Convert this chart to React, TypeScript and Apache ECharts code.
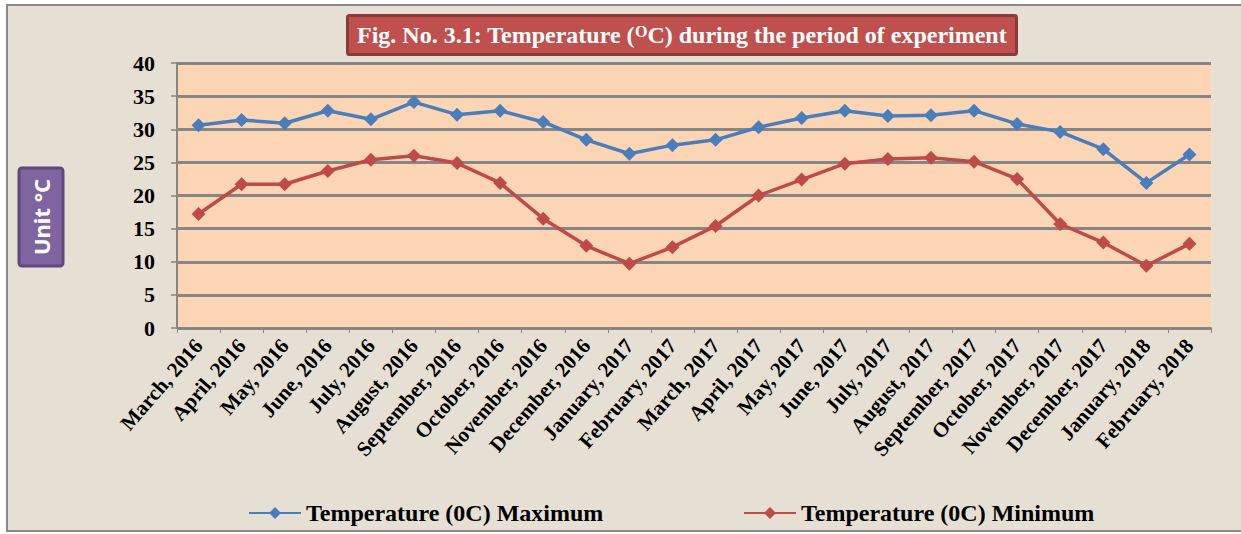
import React, { useEffect, useRef } from "react";
import * as echarts from "echarts";

const categories = [
  "March, 2016", "April, 2016", "May, 2016", "June, 2016", "July, 2016", "August, 2016",
  "September, 2016", "October, 2016", "November, 2016", "December, 2016", "January, 2017", "February, 2017",
  "March, 2017", "April, 2017", "May, 2017", "June, 2017", "July, 2017", "August, 2017",
  "September, 2017", "October, 2017", "November, 2017", "December, 2017", "January, 2018", "February, 2018",
];

const maxTemp = [
  30.6, 31.4, 30.9, 32.8, 31.5, 34.1, 32.2, 32.8, 31.1, 28.4, 26.3, 27.6,
  28.4, 30.3, 31.7, 32.8, 32.0, 32.1, 32.8, 30.8, 29.6, 27.0, 21.9, 26.2,
];

const minTemp = [
  17.2, 21.7, 21.7, 23.7, 25.4, 26.0, 24.9, 21.9, 16.5, 12.4, 9.7, 12.2,
  15.4, 20.0, 22.4, 24.8, 25.5, 25.7, 25.1, 22.5, 15.7, 12.9, 9.4, 12.7,
];

const seriesNames = ["Temperature (0C) Maximum", "Temperature (0C) Minimum"];
const yTicks = { min: 0, max: 40, interval: 5 };

const serif = "'Liberation Serif', 'Times New Roman', serif";

export default function App() {
  const ref = useRef<HTMLDivElement>(null);

  useEffect(() => {
    if (!ref.current) return;
    const chart = echarts.init(ref.current, undefined, { renderer: "svg" });
    const legendText = { fontFamily: serif, fontWeight: "bold", fontSize: 24, color: "#000" };
    chart.setOption({
      animation: false,
      backgroundColor: "#e5dfd4",
      title: {
        text: "Fig. No. 3.1: Temperature ({sup|O}C) during the period of experiment",
        left: 347,
        top: 15,
        padding: [8, 10, 8, 10],
        backgroundColor: "#c0504d",
        borderColor: "#8b3a38",
        borderWidth: 3,
        borderRadius: 2,
        textStyle: {
          color: "#ffffff",
          fontFamily: serif,
          fontWeight: "bold",
          fontSize: 24,
          rich: {
            sup: {
              color: "#ffffff",
              fontFamily: serif,
              fontWeight: "bold",
              fontSize: 16,
              verticalAlign: "top",
            },
          },
        },
      },
      graphic: [
        { type: "rect", silent: true, shape: { x: 0, y: 0, width: 1241, height: 5 }, style: { fill: "#ffffff" } },
        { type: "rect", silent: true, shape: { x: 0, y: 0, width: 7, height: 534 }, style: { fill: "#ffffff" } },
        { type: "rect", silent: true, shape: { x: 0, y: 531, width: 1241, height: 3 }, style: { fill: "#ffffff" } },
        {
          type: "polyline",
          silent: true,
          shape: { points: [[1245, 5], [7, 5], [7, 531], [1245, 531]] },
          style: { stroke: "#8a8a8a", lineWidth: 2, fill: "none" },
        },
        {
          type: "rect",
          silent: true,
          shape: { x: 19, y: 168, width: 44, height: 98, r: 3 },
          style: { fill: "#8064a2", stroke: "#5f497a", lineWidth: 3 },
        },
        {
          type: "text",
          silent: true,
          x: 41,
          y: 217,
          rotation: Math.PI / 2,
          style: {
            text: "Unit °C",
            fill: "#ffffff",
            font: "bold 22px 'Noto Sans', sans-serif",
            align: "center",
            verticalAlign: "middle",
          },
        },
      ],
      legend: [
        {
          data: [seriesNames[0]],
          left: 248,
          top: 501,
          padding: 0,
          itemWidth: 52,
          itemHeight: 15,
          textStyle: legendText,
        },
        {
          data: [seriesNames[1]],
          left: 743,
          top: 501,
          padding: 0,
          itemWidth: 52,
          itemHeight: 15,
          textStyle: legendText,
        },
      ],
      grid: {
        left: 177,
        right: 30,
        top: 63,
        bottom: 206,
        show: true,
        backgroundColor: "#fcd5b4",
        borderWidth: 0,
      },
      xAxis: {
        type: "category",
        data: categories,
        boundaryGap: true,
        axisLine: { show: true, lineStyle: { color: "#868686", width: 2 } },
        axisTick: { show: true, length: 5, lineStyle: { color: "#868686", width: 1 } },
        axisLabel: {
          interval: 0,
          rotate: 49,
          margin: 14,
          color: "#000",
          fontFamily: serif,
          fontWeight: "bold",
          fontSize: 21,
        },
      },
      yAxis: {
        type: "value",
        min: yTicks.min,
        max: yTicks.max,
        interval: yTicks.interval,
        axisLine: { show: true, lineStyle: { color: "#868686", width: 2 } },
        axisTick: { show: true, length: 6, lineStyle: { color: "#868686", width: 1.5 } },
        splitLine: { show: true, lineStyle: { color: "#868686", width: 3 } },
        axisLabel: {
          margin: 22,
          color: "#000",
          fontFamily: serif,
          fontWeight: "bold",
          fontSize: 22,
        },
      },
      series: [
        {
          name: seriesNames[0],
          type: "line",
          data: maxTemp,
          symbol: "diamond",
          symbolSize: 14,
          color: "#4a7ebb",
          lineStyle: { color: "#4a7ebb", width: 3.5 },
          itemStyle: { color: "#4a7ebb" },
        },
        {
          name: seriesNames[1],
          type: "line",
          data: minTemp,
          symbol: "diamond",
          symbolSize: 14,
          color: "#be4b48",
          lineStyle: { color: "#be4b48", width: 3.5 },
          itemStyle: { color: "#be4b48" },
        },
      ],
    });
    return () => chart.dispose();
  }, []);

  return (
    <div
      ref={ref}
      style={{ position: "fixed", left: 0, top: 0, width: 1241, height: 534 }}
    />
  );
}
